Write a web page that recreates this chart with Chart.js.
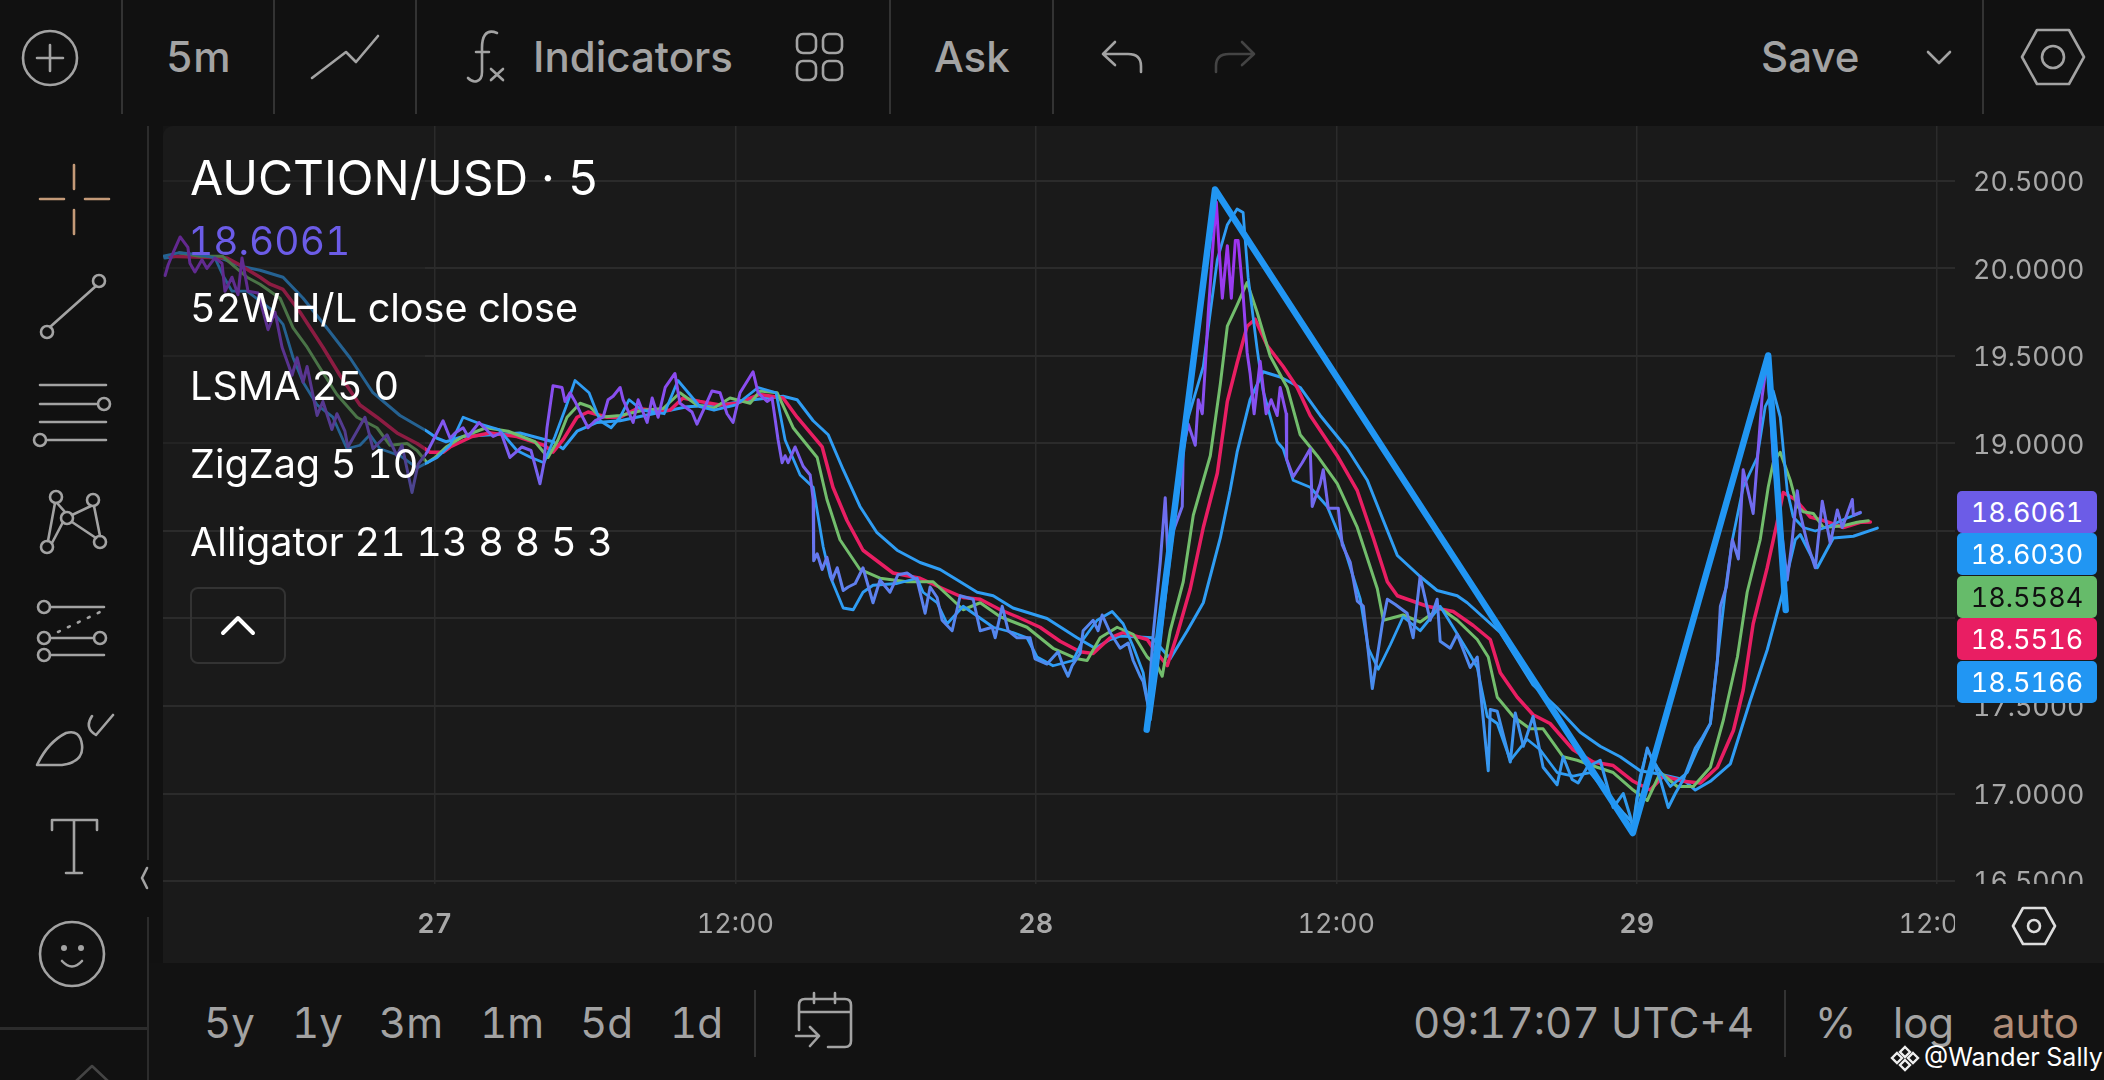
<!DOCTYPE html>
<html>
<head>
<meta charset="utf-8">
<title>AUCTION/USD 5</title>
<script src="https://cdn.jsdelivr.net/npm/chart.js@4"></script>
<style>
    html, body { margin: 0; padding: 0; background: #111; }
    #page { position: relative; width: 2104px; height: 1080px; overflow: hidden; background: #111; font-family: Inter, sans-serif; font-feature-settings: "tnum"; }
    #panel { position: absolute; left: 163px; top: 126px; width: 1941px; height: 837px; background: #1a1a1a; border-top-left-radius: 10px; }
    #bottomBar { position: absolute; left: 148px; top: 963px; width: 1956px; height: 117px; background: #121212; }
    #chartWrap { position: absolute; left: 163px; top: 126px; }
    #dim { position: absolute; left: 163px; top: 126px; width: 262px; height: 400px; background: rgba(26, 26, 26, .45); }
    #axisCover { position: absolute; left: 1955px; top: 884px; width: 149px; height: 79px; background: #1a1a1a; }
    .t { position: absolute; white-space: nowrap; color: #a3a3a3; }
    .w { color: #fff; }
    .tag { position: absolute; left: 1957px; width: 140px; height: 42px; line-height: 43px; text-align: center; font-size: 27px; color: #fff; border-radius: 5px; }
    .sep { position: absolute; width: 2px; background: #333; }
    svg { position: absolute; left: 0; top: 0; }
    svg .i { fill: none; stroke: #a3a3a3; stroke-width: 2.6; stroke-linecap: round; stroke-linejoin: round; }
</style>
</head>
<body>
<div id="page">
    <div id="panel"></div>
    <div id="bottomBar"></div>
    <div id="chartWrap"><canvas id="grafico" width="1941" height="837"></canvas></div>
    <div id="dim"></div>
    <div id="axisCover"></div>

    <!-- barra superior -->
    <div class="sep" style="left:121px;top:0;height:114px"></div>
    <div class="sep" style="left:273px;top:0;height:114px"></div>
    <div class="sep" style="left:415px;top:0;height:114px"></div>
    <div class="sep" style="left:889px;top:0;height:114px"></div>
    <div class="sep" style="left:1052px;top:0;height:114px"></div>
    <div class="sep" style="left:1982px;top:0;height:114px"></div>
    <div class="t" style="left:166px;top:37px;font-size:42px;line-height:40px;font-weight:500">5m</div>
    <div class="t" style="left:533px;top:37px;font-size:42px;line-height:40px;font-weight:500">Indicators</div>
    <div class="t" style="left:934px;top:37px;font-size:42px;line-height:40px;font-weight:500">Ask</div>
    <div class="t" style="left:1761px;top:37px;font-size:42px;line-height:40px;font-weight:500">Save</div>

    <!-- leyenda -->
    <div class="t w" style="left:190px;top:155px;font-size:48px;line-height:46px">AUCTION/USD · 5</div>
    <div class="t" style="left:188px;top:221px;font-size:39px;line-height:40px;color:#6c5ce7">18.6061</div>
    <div class="t w" style="left:190px;top:288px;font-size:39.6px;line-height:40px">52W H/L close close</div>
    <div class="t w" style="left:190px;top:366px;font-size:39.6px;line-height:40px">LSMA 25 0</div>
    <div class="t w" style="left:190px;top:444px;font-size:39.6px;line-height:40px">ZigZag 5 10</div>
    <div class="t w" style="left:190px;top:522px;font-size:39.6px;line-height:40px">Alligator 21 13 8 8 5 3</div>
    <div style="position:absolute;left:190px;top:587px;width:92px;height:73px;border:2px solid #333;border-radius:8px"></div>

    <!-- precios -->
    <div class="tag" style="top:491px;background:#6c5ce7">18.6061</div>
    <div class="tag" style="top:533px;background:#2196f3">18.6030</div>
    <div class="tag" style="top:576px;background:#66bb6a;color:#111">18.5584</div>
    <div class="tag" style="top:618px;background:#e91e63">18.5516</div>
    <div class="tag" style="top:661px;background:#2196f3">18.5166</div>

    <!-- barra inferior -->
    <div class="t" style="left:204px;top:1003px;font-size:42px;line-height:40px">5y</div>
    <div class="t" style="left:292px;top:1003px;font-size:42px;line-height:40px">1y</div>
    <div class="t" style="left:379px;top:1003px;font-size:42px;line-height:40px">3m</div>
    <div class="t" style="left:480px;top:1003px;font-size:42px;line-height:40px">1m</div>
    <div class="t" style="left:580px;top:1003px;font-size:42px;line-height:40px">5d</div>
    <div class="t" style="left:670px;top:1003px;font-size:42px;line-height:40px">1d</div>
    <div class="sep" style="left:754px;top:990px;height:67px"></div>
    <div class="t" style="left:1413px;top:1003px;font-size:42.2px;line-height:40px">09:17:07 UTC+4</div>
    <div class="sep" style="left:1784px;top:990px;height:67px"></div>
    <div class="t" style="left:1815px;top:1003px;font-size:42px;line-height:40px">%</div>
    <div class="t" style="left:1893px;top:1003px;font-size:42px;line-height:40px">log</div>
    <div class="t" style="left:1992px;top:1003px;font-size:42px;line-height:40px;color:#b08d78">auto</div>
    <div class="t w" style="left:1924px;top:1044px;font-size:25px;line-height:26px">@Wander Sally</div>

    <svg width="2104" height="1080">
        <!-- barra superior -->
        <circle class="i" cx="50" cy="58" r="27"/>
        <path class="i" d="M37 58H63M50 45V71"/>
        <path class="i" d="M312 78L346 52L356 62L378 36"/>
        <path class="i" d="M497 33C485 28 482 38 482 48V72C482 82 474 84 468 78M476 52H489M491 69L503 80M503 69L491 80"/>
        <rect class="i" x="797" y="34" width="19" height="19" rx="6"/>
        <rect class="i" x="823" y="34" width="19" height="19" rx="6"/>
        <rect class="i" x="797" y="61" width="19" height="19" rx="6"/>
        <rect class="i" x="823" y="61" width="19" height="19" rx="6"/>
        <path class="i" d="M1115 42L1103 54L1115 65M1103 54H1128Q1141 54 1141 66V72"/>
        <path class="i" style="stroke:#444" d="M1242 42L1254 54L1242 65M1254 54H1229Q1216 54 1216 66V72"/>
        <path class="i" d="M1928 52L1939 63L1950 52"/>
        <path class="i" d="M2022 57L2037 30H2069L2084 57L2069 84H2037Z"/>
        <circle class="i" cx="2053" cy="57" r="11"/>

        <!-- herramientas -->
        <path class="i" style="stroke:#c49a78" d="M74 165V189M74 210V234M40 199H64M85 199H109"/>
        <circle class="i" cx="99" cy="281" r="6"/>
        <circle class="i" cx="47" cy="332" r="6"/>
        <path class="i" d="M96 286L50 327"/>
        <path class="i" d="M40 385H106M40 404H97M40 422H106M47 440H106"/>
        <circle class="i" cx="104" cy="404" r="6"/>
        <circle class="i" cx="40" cy="440" r="6"/>
        <circle class="i" cx="56" cy="497" r="6"/>
        <circle class="i" cx="93" cy="500" r="6"/>
        <circle class="i" cx="67" cy="518" r="6"/>
        <circle class="i" cx="47" cy="547" r="6"/>
        <circle class="i" cx="100" cy="542" r="6"/>
        <path class="i" d="M57 503L65 512M91 506L72 515M55 503L48 541M94 506L100 536M63 522L52 543M72 522L96 538"/>
        <circle class="i" cx="44" cy="607" r="6"/>
        <circle class="i" cx="44" cy="638" r="6"/>
        <circle class="i" cx="44" cy="655" r="6"/>
        <circle class="i" cx="100" cy="638" r="6"/>
        <path class="i" d="M50 607H104M50 638H94M50 655H104"/>
        <path class="i" stroke-dasharray="2 9" d="M58 632L100 612"/>
        <path class="i" d="M37 765Q48 742 66 733Q80 729 82 745Q84 762 62 765ZM113 715L96 735Q84 728 92 716"/>
        <path class="i" d="M52 830V820H97V830M74 820V873M66 873H82"/>
        <circle class="i" cx="72" cy="954" r="32"/>
        <circle cx="64" cy="948" r="3" fill="#a3a3a3"/>
        <circle cx="81" cy="948" r="3" fill="#a3a3a3"/>
        <path class="i" d="M62 961Q72 972 82 961"/>
        <path class="i" d="M147 868L142 878L147 888"/>
        <rect x="147" y="126" width="2" height="734" fill="#2c2c2c"/>
        <rect x="147" y="917" width="2" height="163" fill="#2c2c2c"/>
        <rect x="0" y="1027" width="148" height="3" fill="#2c2c2c"/>
        <path class="i" style="stroke:#444" d="M75 1082L92 1066L109 1082"/>

        <!-- boton y eje -->
        <path class="i" style="stroke:#fff;stroke-width:4" d="M223 633L238 618L253 633"/>
        <path class="i" style="stroke:#ddd" d="M2013 926L2023 908H2045L2055 926L2045 944H2023Z"/>
        <circle class="i" style="stroke:#ddd" cx="2034" cy="926" r="6"/>

        <!-- barra inferior -->
        <path class="i" d="M799 1030V1005Q799 999 805 999H845Q851 999 851 1005V1041Q851 1047 845 1047H828M799 1012H851M814 993V1003M835 993V1003M796 1036H818M810 1027L819 1036L810 1046"/>
        <g fill="none" stroke="#eee" stroke-width="2.4">
            <path d="M1905 1047L1910 1052L1905 1057L1900 1052Z"/>
            <path d="M1897 1053L1902 1058L1897 1063L1892 1058Z"/>
            <path d="M1913 1053L1918 1058L1913 1063L1908 1058Z"/>
            <path d="M1905 1060L1910 1065L1905 1070L1900 1065Z"/>
        </g>
    </svg>
</div>

<script>
// Marcas de los ejes
const ticksPrecio = [16.5, 17, 17.5, 18, 18.5, 19, 19.5, 20, 20.5];
const ticksHoras = [0, 12, 24, 36, 48, 60];
const etiquetasHoras = ["27", "12:00", "28", "12:00", "29", "12:00"];
const diasHoras = ["27", "28", "29"];

// ZigZag 5 10
const zigzagHoras = [28.43, 31.16, 47.84, 53.25, 53.95];
const zigzagValores = [17.365, 20.451, 16.774, 19.503, 18.048];

// Precio (horas desde el dia 27 a las 00:00)
const precioHoras = [
    -10.77, -10.65, -10.45, -10.17, -9.86, -9.78, -9.58, -9.30, -9.10, -8.78, -8.50, -8.38, -8.10, -7.86, -7.70, -7.46,
    -7.06, -6.66, -6.38, -6.10, -5.70, -5.50, -5.26, -5.10, -4.70, -4.47, -4.11, -3.91, -3.59, -3.47, -3.11, -2.79,
    -2.47, -1.91, -1.51, -1.31, -0.91, -0.67, -0.31, 0.33, 0.61, 0.81, 1.13, 1.33, 1.77, 2.33, 2.65, 3.00,
    3.48, 3.84, 4.20, 4.36, 4.48, 4.72, 5.08, 5.20, 5.40, 5.60, 5.80, 6.12, 6.40, 6.72, 6.92, 7.12,
    7.40, 7.52, 7.92, 8.12, 8.48, 8.68, 8.92, 9.20, 9.59, 9.79, 10.27, 10.47, 10.79, 11.07, 11.39, 11.67,
    11.91, 12.19, 12.71, 12.91, 13.27, 13.47, 13.71, 13.87, 13.99, 14.11, 14.39, 14.71, 14.99, 15.11, 15.13, 15.27,
    15.47, 15.66, 15.87, 16.07, 16.31, 16.51, 16.79, 17.10, 17.50, 17.78, 18.18, 18.50, 18.86, 19.26, 19.58, 19.78,
    20.06, 20.26, 20.66, 20.98, 21.50, 21.78, 22.26, 22.38, 22.66, 22.90, 23.25, 23.77, 23.97, 24.45, 24.89, 25.09,
    25.29, 25.45, 25.77, 25.89, 26.29, 26.49, 26.65, 26.97, 27.37, 27.69, 27.89, 28.17, 28.29, 28.49, 28.69, 28.97,
    29.17, 29.29, 29.49, 29.85, 29.89, 30.09, 30.37, 30.49, 30.65, 30.77, 30.89, 31.09, 31.21, 31.33, 31.45, 31.65,
    31.81, 31.97, 32.08, 32.28, 32.44, 32.56, 32.72, 32.96, 33.20, 33.40, 33.64, 33.76, 34.00, 34.02, 34.28, 34.64,
    34.96, 35.04, 35.36, 35.48, 35.68, 36.08, 36.24, 36.56, 36.84, 37.08, 37.28, 37.44, 37.84, 38.04, 38.36, 38.83,
    39.07, 39.35, 39.75, 40.03, 40.15, 40.55, 40.83, 41.35, 41.63, 42.07, 42.15, 42.43, 42.95, 43.15, 43.47, 43.86,
    44.26, 44.82, 45.06, 45.42, 45.66, 46.02, 46.54, 47.06, 47.46, 47.74, 47.86, 48.06, 48.42, 48.74, 48.94, 49.26,
    49.54, 49.86, 50.34, 50.62, 50.94, 51.22, 51.34, 51.58, 51.82, 52.06, 52.25, 52.65, 52.81, 53.01, 53.21, 53.37,
    53.45, 54.01, 54.21, 54.41, 54.53, 54.81, 55.13, 55.41, 55.73, 56.01, 56.21, 56.61, 56.65, 56.93
];
const precioValores = [
    19.96, 20.02, 20.09, 20.18, 20.12, 20.03, 19.98, 20.05, 20.00, 20.06, 20.03, 19.87, 19.95, 19.85, 20.06, 19.87,
    19.86, 19.65, 19.75, 19.55, 19.39, 19.49, 19.35, 19.44, 19.16, 19.24, 19.08, 19.17, 19.07, 18.98, 19.07, 19.15,
    18.97, 19.05, 18.93, 18.99, 18.72, 18.88, 18.95, 19.13, 19.03, 19.06, 19.09, 19.04, 19.12, 19.04, 19.06, 18.92,
    18.98, 18.96, 18.77, 18.89, 19.09, 19.33, 19.32, 19.24, 19.29, 19.24, 19.18, 19.09, 19.13, 19.15, 19.25, 19.27,
    19.32, 19.25, 19.12, 19.25, 19.12, 19.26, 19.15, 19.32, 19.40, 19.23, 19.18, 19.11, 19.21, 19.30, 19.29, 19.17,
    19.12, 19.29, 19.41, 19.29, 19.24, 19.26, 19.02, 18.89, 18.93, 18.89, 18.98, 18.87, 18.82, 18.68, 18.33, 18.37,
    18.28, 18.35, 18.22, 18.29, 18.16, 18.18, 18.20, 18.29, 18.09, 18.22, 18.15, 18.25, 18.26, 18.22, 18.03, 18.18,
    18.12, 17.99, 17.93, 18.13, 18.11, 17.93, 17.95, 17.89, 18.07, 17.93, 17.89, 17.89, 17.77, 17.74, 17.81, 17.73,
    17.67, 17.73, 17.80, 17.93, 17.99, 17.93, 18.02, 17.92, 17.83, 17.86, 17.76, 17.67, 17.64, 17.50, 17.91, 18.32,
    18.69, 18.30, 18.50, 18.64, 18.97, 19.11, 18.99, 19.25, 19.17, 19.44, 19.75, 20.16, 20.38, 20.09, 19.83, 20.13,
    19.83, 20.16, 20.16, 19.85, 19.52, 19.40, 19.17, 19.47, 19.17, 19.25, 19.16, 19.32, 19.17, 18.91, 18.81, 18.89,
    18.97, 18.64, 18.77, 18.85, 18.63, 18.63, 18.42, 18.32, 18.10, 18.07, 17.81, 17.60, 17.97, 18.11, 18.08, 18.03,
    17.89, 18.24, 17.99, 18.11, 17.87, 17.83, 17.91, 17.72, 17.78, 17.13, 17.48, 17.47, 17.18, 17.46, 17.27, 17.44,
    17.15, 17.05, 17.21, 17.08, 17.06, 17.15, 17.19, 16.92, 17.00, 16.87, 16.79, 17.02, 17.26, 17.15, 17.08, 16.92,
    17.00, 17.08, 17.26, 17.32, 17.40, 17.76, 18.07, 18.18, 18.45, 18.34, 18.85, 18.60, 18.89, 19.27, 19.48, 19.12,
    18.91, 18.22, 18.45, 18.73, 18.60, 18.43, 18.29, 18.67, 18.43, 18.62, 18.52, 18.68, 18.59, 18.6061
];

// LSMA 25 0
const lsmaHoras = [
    -10.85, -10.20, -9.50, -8.78, -8.46, -8.10, -7.50, -6.58, -6.06, -5.66, -5.26, -4.70, -4.07, -3.51, -2.99, -2.59,
    -2.19, -1.39, -0.71, 0.09, 0.61, 1.13, 1.85, 2.56, 3.28, 3.84, 4.36, 4.80, 5.24, 5.60, 6.16, 6.60,
    7.04, 7.40, 7.76, 8.28, 9.16, 9.71, 10.59, 11.15, 12.03, 12.91, 13.63, 13.99, 14.59, 15.11, 15.51, 15.79,
    16.31, 16.71, 17.10, 17.50, 18.46, 19.26, 19.50, 20.06, 20.46, 21.10, 21.50, 22.30, 23.09, 23.65, 24.05, 24.69,
    25.49, 25.89, 26.45, 27.05, 27.49, 27.89, 28.29, 28.57, 28.85, 29.49, 30.05, 30.69, 30.97, 31.25, 31.65, 32.04,
    32.28, 32.48, 32.84, 33.08, 33.64, 33.88, 34.28, 34.96, 35.64, 36.28, 36.96, 37.28, 37.68, 38.16, 38.67, 39.35,
    40.15, 40.67, 41.35, 41.63, 42.03, 42.43, 42.95, 43.62, 44.14, 44.82, 45.46, 46.14, 46.82, 47.46, 47.86, 48.14,
    48.42, 48.82, 49.34, 50.02, 50.42, 50.94, 51.22, 51.54, 51.82, 52.25, 52.81, 53.13, 53.45, 53.73, 54.01, 54.25,
    54.65, 55.13, 55.73, 56.33, 56.93
];
const lsmaValores = [
    20.07, 20.09, 20.08, 20.06, 19.96, 19.87, 19.87, 19.77, 19.68, 19.49, 19.35, 19.22, 19.15, 18.97, 18.99, 19.05,
    18.97, 18.93, 18.86, 18.92, 18.99, 19.15, 19.11, 19.08, 18.96, 18.92, 18.89, 19.04, 19.21, 19.36, 19.29, 19.13,
    19.09, 19.15, 19.25, 19.19, 19.17, 19.36, 19.21, 19.19, 19.22, 19.32, 19.29, 19.02, 18.82, 18.75, 18.41, 18.24,
    18.06, 18.05, 18.15, 18.19, 18.20, 18.23, 18.15, 18.09, 17.97, 18.07, 18.03, 17.95, 17.92, 17.89, 17.78, 17.73,
    17.76, 17.88, 17.99, 18.04, 17.97, 17.84, 17.69, 17.42, 17.71, 18.52, 19.13, 19.44, 19.75, 20.05, 20.25, 20.34,
    20.32, 19.95, 19.54, 19.30, 19.01, 18.97, 18.79, 18.75, 18.64, 18.42, 18.11, 17.83, 17.71, 17.85, 18.01, 17.93,
    18.07, 17.95, 17.79, 17.72, 17.44, 17.40, 17.19, 17.31, 17.25, 17.12, 17.10, 17.12, 17.00, 16.89, 16.83, 17.10,
    17.25, 17.15, 17.04, 17.12, 17.25, 17.40, 17.76, 18.16, 18.45, 18.75, 18.92, 19.21, 19.30, 19.15, 18.73, 18.58,
    18.52, 18.50, 18.53, 18.57, 18.603
];

// Alligator: labios
const labiosHoras = [
    -10.20, -9.40, -8.48, -8.08, -7.50, -6.98, -6.18, -5.66, -5.10, -4.58, -3.91, -3.11, -2.31, -1.79, -1.11, -0.71,
    -0.31, 0.01, 0.45, 1.13, 2.05, 2.93, 4.00, 4.52, 4.92, 5.28, 5.80, 6.20, 6.60, 7.40, 8.32, 9.12,
    9.79, 10.47, 11.11, 11.79, 12.59, 12.99, 13.67, 14.31, 14.59, 15.27, 15.66, 16.18, 16.98, 17.78, 18.86, 19.90,
    20.58, 21.10, 21.78, 22.58, 23.65, 24.69, 25.65, 26.05, 26.57, 27.25, 27.89, 28.45, 28.85, 29.05, 29.37, 29.89,
    30.29, 30.97, 31.37, 31.65, 32.04, 32.44, 32.84, 33.36, 34.04, 34.56, 35.24, 36.04, 36.84, 37.64, 37.88, 38.67,
    39.35, 40.15, 40.83, 41.63, 42.07, 42.43, 43.07, 43.74, 44.26, 45.06, 45.62, 46.42, 47.06, 47.86, 48.42, 48.94,
    49.62, 50.26, 50.94, 51.46, 52.02, 52.41, 52.93, 53.25, 53.45, 53.73, 54.13, 54.41, 54.65, 55.05, 55.45, 56.25,
    56.81, 57.25
];
const labiosValores = [
    20.09, 20.07, 20.07, 20.02, 19.95, 19.91, 19.83, 19.66, 19.55, 19.43, 19.28, 19.15, 19.09, 18.99, 19.00, 18.96,
    18.89, 18.92, 18.98, 19.04, 19.09, 19.07, 19.01, 18.92, 19.02, 19.15, 19.23, 19.21, 19.15, 19.16, 19.19, 19.20,
    19.29, 19.22, 19.20, 19.26, 19.23, 19.30, 19.29, 19.09, 19.04, 18.92, 18.68, 18.45, 18.28, 18.23, 18.21, 18.21,
    18.12, 18.05, 18.09, 18.01, 17.95, 17.83, 17.77, 17.76, 17.89, 17.95, 17.91, 17.78, 17.73, 17.67, 17.93, 18.21,
    18.59, 18.93, 19.34, 19.67, 19.79, 19.92, 19.75, 19.50, 19.32, 19.05, 18.93, 18.77, 18.52, 18.17, 17.99, 18.02,
    17.98, 18.06, 17.99, 17.88, 17.78, 17.55, 17.44, 17.37, 17.37, 17.21, 17.19, 17.15, 17.12, 17.02, 16.96, 17.12,
    17.04, 17.04, 17.15, 17.42, 17.78, 18.15, 18.45, 18.75, 18.89, 18.95, 18.79, 18.64, 18.61, 18.60, 18.52, 18.53,
    18.55, 18.5584
];

// Alligator: dientes
const dientesHoras = [
    -10.58, -8.30, -7.78, -6.98, -6.58, -6.06, -5.38, -4.47, -3.79, -2.99, -2.31, -1.51, -0.71, -0.19, 0.33, 0.61,
    1.49, 2.20, 3.28, 4.36, 4.72, 5.12, 5.68, 6.12, 6.88, 7.40, 8.08, 8.72, 9.39, 9.91, 10.59, 11.39,
    12.07, 12.99, 13.91, 14.47, 15.47, 15.90, 16.46, 17.10, 18.30, 19.38, 20.30, 21.10, 21.78, 22.58, 23.25, 24.17,
    24.97, 25.77, 26.29, 26.97, 27.49, 28.45, 28.69, 29.25, 29.65, 30.17, 30.69, 31.25, 31.65, 32.04, 32.44, 32.76,
    33.24, 33.88, 34.44, 34.96, 36.04, 36.84, 37.48, 38.04, 38.44, 39.63, 40.67, 41.47, 42.15, 42.55, 43.23, 43.86,
    44.54, 45.46, 46.26, 47.06, 47.86, 48.54, 49.06, 49.86, 50.54, 51.22, 51.86, 52.25, 52.65, 53.21, 53.61, 53.85,
    54.33, 54.93, 55.45, 56.25, 56.93, 57.33
];
const dientesValores = [
    20.07, 20.06, 20.02, 19.95, 19.91, 19.88, 19.75, 19.55, 19.39, 19.22, 19.15, 19.06, 19.00, 18.95, 18.95, 18.98,
    19.04, 19.06, 19.04, 18.99, 18.95, 19.02, 19.15, 19.18, 19.15, 19.15, 19.20, 19.19, 19.19, 19.26, 19.24, 19.22,
    19.23, 19.28, 19.26, 19.15, 18.98, 18.75, 18.56, 18.39, 18.26, 18.23, 18.17, 18.12, 18.11, 18.05, 18.01, 17.95,
    17.87, 17.81, 17.80, 17.89, 17.92, 17.88, 17.83, 17.73, 17.91, 18.17, 18.52, 18.83, 19.24, 19.46, 19.67, 19.71,
    19.56, 19.44, 19.32, 19.16, 18.93, 18.73, 18.46, 18.21, 18.13, 18.07, 18.04, 17.96, 17.88, 17.69, 17.55, 17.45,
    17.40, 17.25, 17.18, 17.16, 17.07, 17.02, 17.10, 17.07, 17.06, 17.15, 17.36, 17.59, 17.97, 18.29, 18.55, 18.72,
    18.68, 18.58, 18.56, 18.52, 18.55, 18.5516
];

// Alligator: mandibula
const mandibulaHoras = [
    -10.78, -9.78, -8.58, -7.66, -6.98, -6.06, -5.26, -4.31, -3.39, -2.47, -1.39, -0.31, 0.09, 0.45, 1.13, 3.40,
    4.72, 5.12, 5.68, 6.48, 7.40, 8.72, 10.07, 11.39, 12.71, 13.91, 14.47, 15.11, 15.71, 16.31, 16.98, 17.66,
    18.46, 19.38, 20.18, 20.98, 21.66, 22.30, 23.09, 24.45, 25.65, 26.37, 26.97, 27.37, 28.65, 29.37, 30.05, 30.69,
    31.37, 31.76, 32.04, 32.56, 33.08, 33.76, 34.56, 35.36, 36.44, 37.24, 37.88, 38.44, 39.35, 40.03, 40.83, 41.23,
    42.55, 43.86, 44.82, 45.74, 46.54, 47.34, 48.14, 48.94, 49.86, 50.34, 50.94, 51.74, 52.53, 53.21, 53.85, 54.33,
    54.53, 55.21, 55.85, 56.65, 57.61
];
const mandibulaValores = [
    20.06, 20.08, 20.06, 20.01, 19.99, 19.95, 19.83, 19.66, 19.49, 19.29, 19.16, 19.07, 19.03, 19.01, 19.04, 19.06,
    19.01, 18.97, 19.07, 19.12, 19.13, 19.17, 19.21, 19.22, 19.25, 19.27, 19.25, 19.13, 19.05, 18.85, 18.64, 18.49,
    18.39, 18.32, 18.28, 18.21, 18.15, 18.13, 18.06, 18.00, 17.89, 17.83, 17.88, 17.90, 17.89, 17.77, 17.93, 18.09,
    18.46, 18.73, 18.95, 19.25, 19.41, 19.38, 19.32, 19.16, 18.97, 18.79, 18.56, 18.36, 18.24, 18.16, 18.13, 18.09,
    17.92, 17.62, 17.49, 17.35, 17.27, 17.21, 17.13, 17.11, 17.08, 17.02, 17.07, 17.17, 17.53, 17.82, 18.16, 18.45,
    18.48, 18.29, 18.46, 18.47, 18.5166
];

const unir = (horas, valores) => horas.map((h, i) => ({ x: h, y: valores[i] }));

// El precio cambia de color con el valor: morado arriba, azul abajo
function colorPrecio(ctx) {
    const chart = ctx.chart;
    if (!chart.chartArea) return "#7c4dff";
    const y = chart.scales.y;
    const g = chart.ctx.createLinearGradient(0, y.getPixelForValue(20.4), 0, y.getPixelForValue(17));
    g.addColorStop(0, "#a52cf0");
    g.addColorStop(0.32, "#8a4df0");
    g.addColorStop(0.65, "#5f80ee");
    g.addColorStop(1, "#2f9bf0");
    return g;
}

function linea(datos, color, grosor) {
    return { data: datos, borderColor: color, borderWidth: grosor, pointRadius: 0, tension: 0, borderJoinStyle: "round", borderCapStyle: "round" };
}

new Chart(document.getElementById("grafico"), {
    type: "line",
    data: {
        // el primero queda encima
        datasets: [
            linea(unir(zigzagHoras, zigzagValores), "#2196f3", 6.5),
            linea(unir(precioHoras, precioValores), colorPrecio, 3),
            linea(unir(lsmaHoras, lsmaValores), "#2f9df4", 2.8),
            linea(unir(labiosHoras, labiosValores), "#72bd6c", 3),
            linea(unir(dientesHoras, dientesValores), "#e91e63", 3.5),
            linea(unir(mandibulaHoras, mandibulaValores), "#2f9df4", 3)
        ]
    },
    options: {
        responsive: false,
        animation: false,
        devicePixelRatio: 1,
        layout: { padding: 0 },
        plugins: { legend: { display: false }, tooltip: { enabled: false } },
        scales: {
            x: {
                type: "linear",
                min: -10.855,
                max: 60.71,
                afterFit: s => { s.height = 79; s.paddingLeft = 0; s.paddingRight = 0; },
                afterBuildTicks: s => { s.ticks = ticksHoras.map(v => ({ value: v })); },
                grid: { color: "#2b2b2b", lineWidth: 1.5, drawTicks: false },
                border: { display: false },
                ticks: {
                    autoSkip: false,
                    maxRotation: 0,
                    padding: 25,
                    color: "#a8a8a8",
                    callback: v => etiquetasHoras[ticksHoras.indexOf(v)],
                    font: c => ({
                        family: "Inter",
                        size: 27,
                        weight: diasHoras.includes(etiquetasHoras[c.index]) ? "600" : "normal"
                    })
                }
            },
            y: {
                position: "right",
                min: 16.483,
                max: 20.814,
                afterFit: s => { s.width = 149; s.paddingTop = 0; s.paddingBottom = 0; },
                afterBuildTicks: s => { s.ticks = ticksPrecio.map(v => ({ value: v })); },
                grid: { color: "#2b2b2b", lineWidth: 2, drawTicks: false },
                border: { display: false },
                ticks: {
                    padding: 18,
                    labelOffset: 2,
                    color: "#a8a8a8",
                    font: { family: "Inter", size: 26.8 },
                    callback: v => v.toFixed(4)
                }
            }
        }
    }
});
</script>
</body>
</html>
